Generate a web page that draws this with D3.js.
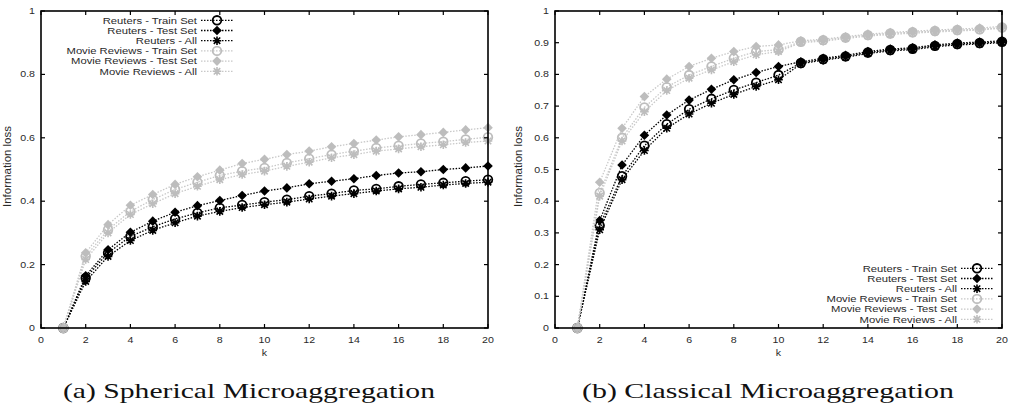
<!DOCTYPE html>
<html>
<head>
<meta charset="utf-8">
<script src="https://cdn.jsdelivr.net/npm/d3@7"></script>
<style>
  body { margin: 0; background: #fff; }
  svg { display: block; }
</style>
</head>
<body>
<div id="chart"></div>
<script>
// values, k = 1..20
const kValues = d3.range(1, 21)

const seriesNames = [
  'Reuters - Train Set',
  'Reuters - Test Set',
  'Reuters - All',
  'Movie Reviews - Train Set',
  'Movie Reviews - Test Set',
  'Movie Reviews - All'
]

// (a) spherical
const sphReutersTrain = [0, 0.158, 0.237, 0.289, 0.319, 0.344, 0.363, 0.379, 0.388, 0.397, 0.405, 0.416, 0.424, 0.434, 0.439, 0.447, 0.453, 0.458, 0.463, 0.468]
const sphReutersTest = [0, 0.165, 0.247, 0.302, 0.337, 0.365, 0.386, 0.402, 0.418, 0.432, 0.442, 0.455, 0.463, 0.471, 0.481, 0.489, 0.493, 0.5, 0.505, 0.511]
const sphReutersAll = [0, 0.147, 0.226, 0.276, 0.308, 0.332, 0.353, 0.368, 0.38, 0.389, 0.397, 0.407, 0.416, 0.424, 0.432, 0.439, 0.444, 0.451, 0.456, 0.46]
const sphMovieTrain = [0, 0.226, 0.31, 0.368, 0.405, 0.437, 0.46, 0.481, 0.495, 0.505, 0.521, 0.534, 0.547, 0.558, 0.568, 0.575, 0.582, 0.588, 0.595, 0.602]
const sphMovieTest = [0, 0.237, 0.326, 0.387, 0.421, 0.453, 0.477, 0.498, 0.519, 0.532, 0.547, 0.558, 0.572, 0.582, 0.593, 0.603, 0.61, 0.617, 0.625, 0.632]
const sphMovieAll = [0, 0.216, 0.3, 0.358, 0.392, 0.424, 0.447, 0.468, 0.484, 0.495, 0.51, 0.523, 0.537, 0.547, 0.558, 0.565, 0.572, 0.578, 0.585, 0.59]

// (b) classical
const claReutersTrain = [0, 0.323, 0.479, 0.575, 0.643, 0.69, 0.723, 0.751, 0.774, 0.798, 0.836, 0.848, 0.857, 0.869, 0.877, 0.881, 0.89, 0.896, 0.899, 0.903]
const claReutersTest = [0, 0.339, 0.514, 0.608, 0.672, 0.719, 0.753, 0.783, 0.806, 0.825, 0.84, 0.851, 0.86, 0.872, 0.88, 0.884, 0.893, 0.899, 0.902, 0.906]
const claReutersAll = [0, 0.31, 0.468, 0.56, 0.63, 0.675, 0.709, 0.737, 0.762, 0.783, 0.833, 0.845, 0.854, 0.866, 0.874, 0.878, 0.887, 0.893, 0.896, 0.9]
const claMovieTrain = [0, 0.426, 0.6, 0.696, 0.76, 0.798, 0.825, 0.851, 0.872, 0.878, 0.903, 0.908, 0.916, 0.924, 0.929, 0.933, 0.937, 0.94, 0.942, 0.948]
const claMovieTest = [0, 0.46, 0.63, 0.73, 0.785, 0.825, 0.851, 0.872, 0.888, 0.893, 0.906, 0.911, 0.919, 0.927, 0.932, 0.936, 0.94, 0.943, 0.946, 0.952]
const claMovieAll = [0, 0.416, 0.59, 0.682, 0.749, 0.788, 0.814, 0.84, 0.862, 0.872, 0.9, 0.905, 0.913, 0.921, 0.926, 0.93, 0.934, 0.937, 0.94, 0.946]

const xTicks = d3.range(0, 21, 2)
const yTicksA = [0, 0.2, 0.4, 0.6, 0.8, 1]
const yTicksB = d3.range(0, 11).map((d) => d / 10)

const width = 1009
const height = 413
const sx = 1.25 // the figure is stretched sideways

const svg = d3.select('#chart').append('svg')
  .attr('width', width)
  .attr('height', height)

// markers: 0 circle, 1 diamond, 2 asterisk
function drawMarker(g, type, x, y, color) {
  if (type === 0) {
    g.append('circle').attr('cx', x).attr('cy', y).attr('r', 4.3)
      .attr('fill', 'none').attr('stroke', color).attr('stroke-width', 1.8)
  } else if (type === 1) {
    const s = 4.8
    g.append('path')
      .attr('d', `M${x},${y - s}L${x + s},${y}L${x},${y + s}L${x - s},${y}Z`)
      .attr('fill', color)
  } else {
    const s = 4.3
    const d = s * 0.75
    g.append('path')
      .attr('d', `M${x - s},${y}H${x + s}M${x},${y - s}V${y + s}M${x - d},${y - d}L${x + d},${y + d}M${x - d},${y + d}L${x + d},${y - d}`)
      .attr('stroke', color).attr('stroke-width', 1.6)
  }
}

function stretched(g, str, x, y, size, anchor) {
  return g.append('text')
    .attr('transform', `translate(${x},${y}) scale(${sx},1)`)
    .attr('text-anchor', anchor)
    .style('font-family', 'Liberation Sans, Arial, sans-serif')
    .style('font-size', size + 'px')
    .attr('fill', '#2a2a2a')
    .text(str)
}

function panel(opts) {
  const { left, right, top, bottom, series, yTicks, yFmt, legendX, legendY, caption, captionX, labelX } = opts
  const g = svg.append('g')

  const xScale = d3.scaleLinear().domain([0, 20]).range([left, right])
  const yScale = d3.scaleLinear().domain([0, 1]).range([bottom, top])

  const colors = ['#000', '#000', '#000', '#bdbdbd', '#bdbdbd', '#bdbdbd']
  const lineColors = ['#000', '#000', '#000', '#c8c8c8', '#c8c8c8', '#c8c8c8']

  const makeLine = d3.line()
    .x((d, i) => xScale(kValues[i]))
    .y((d) => yScale(d))

  // plotted in legend order, like gnuplot does
  series.forEach((vals, si) => {
    g.append('path')
      .attr('d', makeLine(vals))
      .attr('fill', 'none')
      .attr('stroke', lineColors[si])
      .attr('stroke-width', 1.3)
      .attr('stroke-dasharray', '1.5,1.5')
    vals.forEach((v, i) => {
      drawMarker(g, si % 3, xScale(kValues[i]), yScale(v), colors[si])
    })
  })

  // frame
  g.append('rect')
    .attr('x', left).attr('y', top)
    .attr('width', right - left).attr('height', bottom - top)
    .attr('fill', 'none').attr('stroke', '#000').attr('stroke-width', 1.6)

  // ticks on all four sides, pointing inward
  xTicks.forEach((t) => {
    const x = xScale(t)
    g.append('line').attr('x1', x).attr('x2', x).attr('y1', bottom).attr('y2', bottom - 4)
      .attr('stroke', '#000').attr('stroke-width', 1.2)
    g.append('line').attr('x1', x).attr('x2', x).attr('y1', top).attr('y2', top + 4)
      .attr('stroke', '#000').attr('stroke-width', 1.2)
    stretched(g, t, x, bottom + 15, 8.5, 'middle')
  })
  yTicks.forEach((t) => {
    const y = yScale(t)
    g.append('line').attr('x1', left).attr('x2', left + 4).attr('y1', y).attr('y2', y)
      .attr('stroke', '#000').attr('stroke-width', 1.2)
    g.append('line').attr('x1', right).attr('x2', right - 4).attr('y1', y).attr('y2', y)
      .attr('stroke', '#000').attr('stroke-width', 1.2)
    stretched(g, yFmt(t), left - 6, y + 3, 8.5, 'end')
  })

  // axis titles
  stretched(g, 'k', (left + right) / 2, bottom + 28, 8.5, 'middle')
  g.append('text')
    .attr('transform', `translate(${labelX},${(top + bottom) / 2 - 3}) rotate(-90) scale(1.35,1.2)`)
    .attr('text-anchor', 'middle')
    .style('font-family', 'Liberation Sans, Arial, sans-serif')
    .style('font-size', '8.5px')
    .attr('fill', '#2a2a2a')
    .text('Information loss')

  // legend
  seriesNames.forEach((name, i) => {
    const y = legendY + i * 10.2
    stretched(g, name, legendX, y + 3.3, 9, 'end')
    g.append('line')
      .attr('x1', legendX + 4).attr('x2', legendX + 36)
      .attr('y1', y).attr('y2', y)
      .attr('stroke', lineColors[i]).attr('stroke-width', 1.3)
      .attr('stroke-dasharray', '1.5,1.5')
    drawMarker(g, i % 3, legendX + 20, y, colors[i])
  })

  // caption
  svg.append('text')
    .attr('x', captionX).attr('y', 398)
    .attr('textLength', 372)
    .attr('lengthAdjust', 'spacingAndGlyphs')
    .style('font-family', 'Liberation Serif, Times New Roman, serif')
    .style('font-size', '21px')
    .attr('fill', '#111')
    .text(caption)
}

panel({
  left: 41, right: 488, top: 11, bottom: 328,
  series: [sphReutersTrain, sphReutersTest, sphReutersAll, sphMovieTrain, sphMovieTest, sphMovieAll],
  yTicks: yTicksA, yFmt: d3.format(''),
  legendX: 197, legendY: 20.3, labelX: 11,
  caption: '(a) Spherical Microaggregation', captionX: 63
})

panel({
  left: 555, right: 1002, top: 11, bottom: 328,
  series: [claReutersTrain, claReutersTest, claReutersAll, claMovieTrain, claMovieTest, claMovieAll],
  yTicks: yTicksB, yFmt: d3.format(''),
  legendX: 957, legendY: 268.3, labelX: 522,
  caption: '(b) Classical Microaggregation', captionX: 582
})
</script>
</body>
</html>
